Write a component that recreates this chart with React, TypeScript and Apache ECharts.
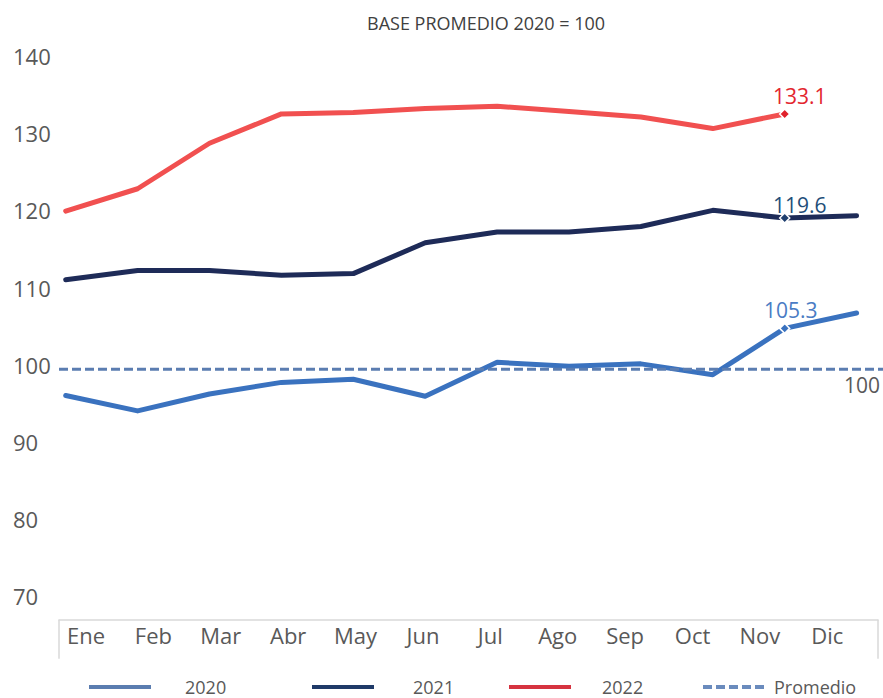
import React, { useEffect, useRef } from "react";
import * as echarts from "echarts";

const months = ["Ene", "Feb", "Mar", "Abr", "May", "Jun", "Jul", "Ago", "Sep", "Oct", "Nov", "Dic"];
const values2020 = [96.6, 94.6, 96.8, 98.3, 98.7, 96.5, 100.9, 100.4, 100.7, 99.3, 105.3, 107.3];
const values2021 = [111.6, 112.8, 112.8, 112.2, 112.4, 116.4, 117.8, 117.8, 118.5, 120.6, 119.6, 119.9];
const values2022 = [120.5, 123.4, 129.3, 133.1, 133.3, 133.8, 134.1, 133.4, 132.7, 131.2, 133.1, null];
const promedio = [100, 100];
const labelIndex = 10;
const yTicks = { min: 70, max: 140, interval: 10 };
const titleText = "BASE PROMEDIO 2020 = 100";

const FONT = "'Open Sans', 'Noto Sans', sans-serif";
const GRAY = "#595959";

function withMarker(values: (number | null)[], markerColor: string, labelColor: string, offset: number[]) {
  return values.map((v, i) =>
    i === labelIndex
      ? {
          value: v,
          symbol: "diamond",
          symbolSize: 10,
          itemStyle: { color: markerColor, borderColor: "#ffffff", borderWidth: 1.5 },
          label: {
            show: true,
            position: "top",
            offset,
            color: labelColor,
            fontSize: 21,
            fontFamily: FONT,
          },
        }
      : v
  );
}

export default function App() {
  const ref = useRef<HTMLDivElement>(null);
  useEffect(() => {
    if (!ref.current) return;
    const chart = echarts.init(ref.current, null, { renderer: "svg" });
    const top = 60.7;
    const bottom = 97.3;
    const yBase = (gridIndex: number, show: boolean) => ({
      gridIndex,
      type: "value",
      min: yTicks.min,
      max: yTicks.max,
      interval: yTicks.interval,
      show,
      axisLine: { show: false },
      axisTick: { show: false },
      splitLine: { show: false },
      axisLabel: {
        show,
        align: "left",
        verticalAlign: "bottom",
        lineHeight: 9,
        margin: 52.7,
        fontSize: 22,
        color: GRAY,
        fontFamily: FONT,
      },
    });
    const legendBase = (name: string, left: number, gap: number, color: string, dashed: boolean) => ({
      data: [
        {
          name,
          lineStyle: { color, width: 4, type: dashed ? [9, 4] : "solid", cap: "butt" },
          itemStyle: { color, opacity: 0 },
        },
      ],
      left,
      top: 678,
      padding: 0,
      itemWidth: 62,
      itemHeight: 14,
      selectedMode: false,
      itemStyle: { opacity: 0 },
      textStyle: { fontSize: 18, lineHeight: 18, color: GRAY, fontFamily: FONT, padding: [0, 0, 0, gap] },
    });
    const option = {
      animation: false,
      textStyle: { fontFamily: FONT },
      title: {
        text: titleText,
        left: 362,
        top: 9,
        textStyle: { fontSize: 18, fontWeight: "normal", color: "#404040", fontFamily: FONT },
      },
      grid: [
        { left: 65.7, right: 26.4, top, bottom },
        { left: 59, right: 0, top, bottom },
        { left: 52.3, right: 22, top, bottom },
        { left: 59, right: 5, top, bottom },
      ],
      xAxis: [
        { gridIndex: 0, type: "category", data: months, boundaryGap: false, show: false },
        { gridIndex: 1, type: "category", data: ["", ""], boundaryGap: false, show: false },
        {
          gridIndex: 2,
          type: "category",
          data: months,
          boundaryGap: true,
          axisLine: { show: false },
          axisTick: { show: false },
          axisLabel: { interval: 0, margin: 23, fontSize: 22, color: GRAY, fontFamily: FONT },
        },
        {
          gridIndex: 3,
          type: "category",
          data: [""],
          boundaryGap: true,
          offset: 19,
          axisLine: { show: true, lineStyle: { color: "#d9d9d9", width: 1.5 } },
          axisTick: { show: true, length: 39, lineStyle: { color: "#d9d9d9", width: 1.5 } },
          axisLabel: { show: false },
        },
      ],
      yAxis: [yBase(0, true), yBase(1, false), yBase(2, false), yBase(3, false)],
      legend: [
        legendBase("2020", 87, 29, "#5b7db0", false),
        legendBase("2021", 310, 34, "#1f3a68", false),
        legendBase("2022", 507, 26, "#d63340", false),
        legendBase("Promedio", 701, 4, "#6a8bbd", true),
      ],
      series: [
        {
          name: "2020",
          type: "line",
          xAxisIndex: 0,
          yAxisIndex: 0,
          symbol: "none",
          silent: true,
          data: withMarker(values2020, "#3a72bf", "#4a7cc4", [6, 3]),
          lineStyle: { color: "#3a72bf", width: 5, cap: "round", join: "round" },
          itemStyle: { color: "#3a72bf" },
        },
        {
          name: "2021",
          type: "line",
          xAxisIndex: 0,
          yAxisIndex: 0,
          symbol: "none",
          silent: true,
          data: withMarker(values2021, "#1f3f6f", "#1f4e79", [15, 8]),
          lineStyle: { color: "#1e2b58", width: 5, cap: "round", join: "round" },
          itemStyle: { color: "#1e2b58" },
        },
        {
          name: "2022",
          type: "line",
          xAxisIndex: 0,
          yAxisIndex: 0,
          symbol: "none",
          silent: true,
          data: withMarker(values2022, "#e0202a", "#e3262f", [15, 3]),
          lineStyle: { color: "#f15050", width: 5, cap: "round", join: "round" },
          itemStyle: { color: "#f15050" },
        },
        {
          name: "Promedio",
          type: "line",
          xAxisIndex: 1,
          yAxisIndex: 1,
          symbol: "none",
          silent: true,
          data: promedio.map((v, i) =>
            i === promedio.length - 1
              ? {
                  value: v,
                  symbol: "circle",
                  symbolSize: 1,
                  itemStyle: { color: "rgba(0,0,0,0)" },
                  label: {
                    show: true,
                    position: "bottom",
                    align: "right",
                    offset: [-3, 0],
                    color: GRAY,
                    fontSize: 21,
                    fontFamily: FONT,
                  },
                }
              : v
          ),
          lineStyle: { color: "#5b7db1", width: 3, type: [9, 4] },
          itemStyle: { color: "#5b7db1" },
        },
      ],
    };
    chart.setOption(option as any);
    return () => chart.dispose();
  }, []);
  return (
    <div
      ref={ref}
      style={{ position: "fixed", left: 0, top: 0, width: 883, height: 698, background: "#ffffff" }}
    />
  );
}
